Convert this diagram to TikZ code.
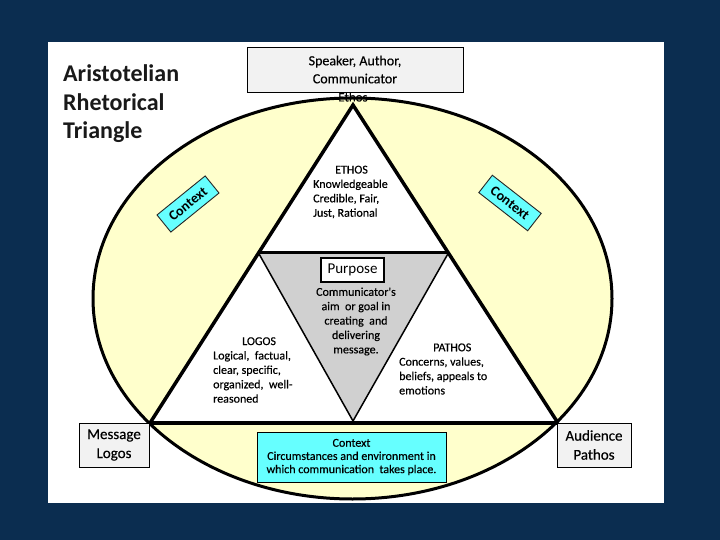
\documentclass[tikz,border=0pt]{standalone}
\usepackage{fontspec}
\setmainfont{Carlito}
\newfontfamily\semib{Carlito}[FakeBold=0.35]
\usetikzlibrary{calc}
\definecolor{navybg}{HTML}{0B2D50}
\definecolor{paleyellow}{HTML}{FFFFCC}
\definecolor{ctxcyan}{HTML}{66FFFF}
\definecolor{boxgray}{HTML}{F2F2F2}
\definecolor{trigray}{HTML}{D0D0D0}
\tikzset{
  small/.style={font=\semib\fontsize{12}{14.4}\selectfont, align=left, inner sep=0pt},
  cornerbox/.style={draw=black, line width=0.9pt, fill=boxgray, align=center, inner sep=0pt,
    font=\semib\fontsize{15}{19}\selectfont},
  ctxtag/.style={draw=black!85, fill=ctxcyan, line width=0.9pt, minimum width=62pt,
    minimum height=22pt, inner sep=0pt, font=\fontsize{14}{15}\selectfont\bfseries},
  titletext/.style={anchor=base west, inner sep=0pt, font=\fontsize{24}{28}\selectfont\bfseries, text=black!90}
}
\begin{document}
\begin{tikzpicture}[x=1pt,y=-1pt]
\fill[navybg] (0,0) rectangle (720,540);
\useasboundingbox (0,0) rectangle (720,540);
\fill[white] (48,42) rectangle (664,503);

% ellipse
\fill[paleyellow] (352.5,298.5) ellipse [x radius=259.5pt, y radius=200.5pt];
\node[inner sep=0pt, font=\semib\fontsize{13}{15}\selectfont] (ethoslbl) at (353,97) {Ethos};
\draw[line width=3pt] (352.5,298.5) ellipse [x radius=259.5pt, y radius=200.5pt];

% big triangle
\coordinate (A) at (353,105);
\coordinate (L) at (150,423);
\coordinate (R) at (558,423);
\coordinate (GL) at ($(A)!0.4654!(L)$);
\coordinate (GR) at ($(A)!0.4654!(R)$);
\coordinate (GB) at (353,421);
\fill[white] (A) -- (L) -- (R) -- cycle;
\draw[line width=1.5pt, fill=trigray] (GL) -- (GR) -- (GB) -- cycle;
\draw[line width=3.5pt, line join=miter] (L) -- (A) -- (R);
\draw[line width=3pt] (GL) -- (GR);
\draw[line width=4.5pt] (L) -- (R);

% title
\node[titletext] (t1) at (63,82) {Aristotelian};
\node[titletext] (t2) at (63,110.5) {Rhetorical};
\node[titletext] (t3) at (63,139) {Triangle};

% top box
\node[draw=black, line width=0.9pt, fill=boxgray, minimum width=216pt, minimum height=45pt,
  align=center, inner sep=0pt, font=\semib\fontsize{14}{18}\selectfont] (speaker) at (355,69.5)
  {Speaker, Author,\\Communicator};

% corner boxes
\node[cornerbox, minimum width=70pt, minimum height=44pt] (message) at (114,445) {Message\\Logos};
\node[cornerbox, minimum width=74pt, minimum height=44pt] (audience) at (594,445) {Audience\\Pathos};

% bottom context
\node[draw=black, line width=0.9pt, fill=ctxcyan, minimum width=189pt, minimum height=50pt,
  align=center, inner sep=0pt, font=\semib\fontsize{12}{13.2}\selectfont] (context) at (351.5,457)
  {Context\\Circumstances and environment in\\which communication\ \ takes place.};

% rotated context tags
\node[ctxtag, rotate=39] (ctxleft) at (188,204) {Context};
\node[ctxtag, rotate=-38] (ctxright) at (510,203) {Context};

% ethos block
\node[small, anchor=west] (ethos) at (313,192)
  {\hspace*{22pt}ETHOS\\Knowledgeable\\Credible, Fair,\\Just, Rational};

% purpose
\node[draw=black, line width=1.2pt, fill=white, minimum width=63pt, minimum height=24pt,
  inner sep=0pt, font=\fontsize{15}{17}\selectfont] (purpose) at (352.5,270) {Purpose};
\node[small, align=center] (purposetext) at (356,321.5)
  {Communicator's\\aim\ \ or goal in\\creating\ \ and\\delivering\\message.};

% logos block
\node[small, anchor=west] (logos) at (213,370)
  {\hspace*{29pt}LOGOS\\Logical,\ \ factual,\\clear,\ specific,\\organized,\ \ well-\\reasoned};

% pathos block
\node[small, anchor=west] (pathos) at (399,369)
  {\hspace*{34pt}PATHOS\\Concerns, values,\\beliefs, appeals to\\emotions};
\end{tikzpicture}
\end{document}
